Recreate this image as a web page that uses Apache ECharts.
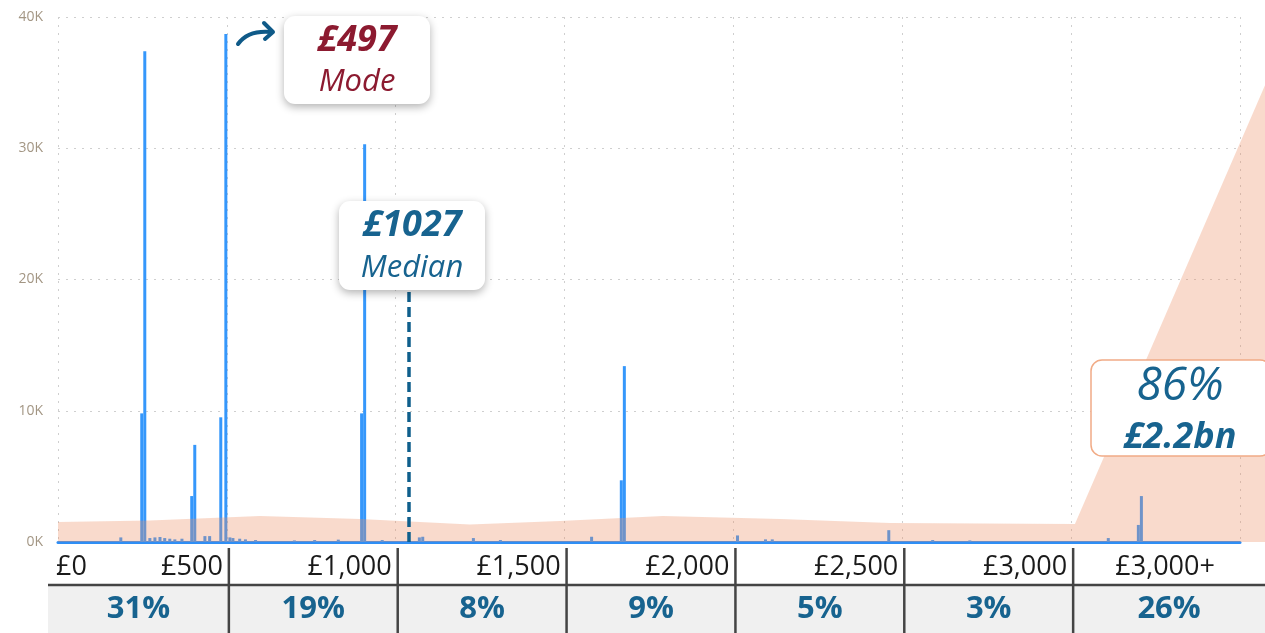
<!DOCTYPE html>
<html>
<head>
<meta charset="utf-8">
<script src="https://cdn.jsdelivr.net/npm/echarts@6/dist/echarts.min.js"></script>
<style>
  html, body { margin: 0; padding: 0; background: #fff; }
  #main { width: 1265px; height: 633px; }
</style>
</head>
<body>
<div id="main"></div>
<script>
// spikes: [amount £, count]
var spikes = [
  [186, 350], [248, 9800], [257, 37400], [272, 300], [287, 350], [302, 380], [316, 300],
  [331, 250], [346, 200], [367, 250], [396, 3500], [405, 7400], [435, 450], [449, 450],
  [482, 9500], [497, 38700], [509, 350], [518, 300], [538, 250], [555, 200], [585, 150],
  [700, 120], [760, 150], [830, 180], [899, 9800], [908, 30300], [960, 150], [1070, 350],
  [1080, 400], [1230, 300], [1310, 150], [1580, 400], [1668, 4700], [1677, 13400],
  [2012, 500], [2095, 200], [2115, 200], [2460, 900], [2590, 150], [2700, 120],
  [3110, 300], [3199, 1300], [3208, 3500]
];
// total money profile (area)
var moneyX = [0, 272, 597, 893, 1218, 1484, 1789, 2135, 2460, 3007, 3569];
var moneyY = [1520, 1640, 1980, 1750, 1330, 1600, 1980, 1750, 1450, 1370, 34800];

var medianValue = 1040;
var medianTop = 19200;

var tickLabels = ['£0', '£500', '£1,000', '£1,500', '£2,000', '£2,500', '£3,000', '£3,000+'];
var bandShares = ['31%', '19%', '8%', '9%', '5%', '3%', '26%'];

var moneyData = moneyX.map(function (x, i) { return [x, moneyY[i]]; });

var chart = echarts.init(document.getElementById('main'));

var option = {
  animation: false,
  grid: [
    { left: 58, right: 25, top: 17, bottom: 91 },
    { left: 58, right: 0, top: 17, bottom: 91 }
  ],
  xAxis: [
    {
      type: 'value', gridIndex: 0, min: 0, max: 3500, interval: 500,
      axisLine: { show: true, onZero: true, lineStyle: { color: '#2f8ef5', width: 3 } },
      axisTick: { show: false },
      axisLabel: { show: false },
      splitLine: { show: true, lineStyle: { color: '#cfcfcf', width: 1, type: [2, 6] } }
    },
    {
      type: 'value', gridIndex: 1, min: 0, max: 3569, show: false
    }
  ],
  yAxis: [
    {
      type: 'value', gridIndex: 0, min: 0, max: 40000, interval: 10000,
      axisLine: { show: false },
      axisTick: { show: false },
      axisLabel: {
        margin: 15, color: '#a39684', fontSize: 14, fontFamily: 'Open Sans',
        formatter: function (v) { return (v / 1000) + 'K'; }
      },
      splitLine: { show: true, lineStyle: { color: '#cfcfcf', width: 1, type: [2, 6] } }
    },
    {
      type: 'value', gridIndex: 1, min: 0, max: 40000, show: false
    }
  ],
  series: [
    {
      name: 'count',
      type: 'bar',
      xAxisIndex: 0, yAxisIndex: 0,
      data: spikes,
      barWidth: 3,
      itemStyle: { color: '#3597fb' },
      z: 2,
      markLine: {
        silent: true,
        symbol: 'none',
        label: { show: false },
        lineStyle: { color: '#0f5f8c', width: 3.5, type: [10, 5] },
        data: [[{ coord: [medianValue, 0] }, { coord: [medianValue, medianTop] }]]
      }
    },
    {
      name: 'money',
      type: 'line',
      xAxisIndex: 1, yAxisIndex: 1,
      data: moneyData,
      smooth: false,
      symbol: 'none',
      lineStyle: { width: 0 },
      areaStyle: { color: 'rgba(236,140,95,0.45)' },
      z: 3
    }
  ]
};
chart.setOption(option);

// annotations and the band table under the axis
var g = [];
var font = 'Open Sans';
var boxShadow = { shadowBlur: 8, shadowColor: 'rgba(0,0,0,0.3)', shadowOffsetY: 3 };

function box(x, y, w, h, extra) {
  var st = Object.assign({ fill: '#fff' }, boxShadow, extra || {});
  g.push({ type: 'rect', shape: { x: x, y: y, width: w, height: h, r: 11 }, style: st, z: 50 });
}
function txt(x, y, s, size, color, weight, italic, align) {
  g.push({
    type: 'text', x: x, y: y, z: 60,
    style: {
      text: s, fill: color, font: (italic ? 'italic ' : '') + (weight || 'normal') + ' ' + size + 'px "' + font + '"',
      align: align || 'center', verticalAlign: 'middle'
    }
  });
}

// mode
box(284, 16, 146, 88);
txt(357, 41, '£497', 36, '#8c1a30', 'bold', true);
txt(357, 82, 'Mode', 31, '#8c1a30', 'normal', true);
g.push({
  type: 'bezierCurve', z: 60,
  shape: { x1: 238, y1: 44, cpx1: 248, cpy1: 30, x2: 271, y2: 32 },
  style: { stroke: '#0f5a88', lineWidth: 4, fill: null, lineCap: 'round' }
});
g.push({
  type: 'polyline', z: 60,
  shape: { points: [[264, 23], [273, 32], [265, 39]] },
  style: { stroke: '#0f5a88', lineWidth: 4, fill: null, lineCap: 'round', lineJoin: 'round' }
});

// median
box(339, 201, 146, 89);
txt(412, 226, '£1027', 36, '#17638f', 'bold', true);
txt(412, 268, 'Median', 31, '#17638f', 'normal', true);

// share of money
box(1091, 360, 180, 96, { shadowBlur: 0, shadowOffsetY: 0, stroke: '#f1ab86', lineWidth: 1.5 });
txt(1180, 387, '86%', 46, '#17638f', 'normal', true);
txt(1180, 438, '£2.2bn', 36, '#17638f', 'bold', true);

// table
var lineColor = '#444';
var sep = [];
for (var i = 1; i <= 6; i++) {
  sep.push(chart.convertToPixel({ xAxisIndex: 0 }, i * 500) + 2);
}
var colEdges = [48].concat(sep).concat([1265]);

g.push({ type: 'rect', shape: { x: 48, y: 586, width: 1217, height: 47 }, style: { fill: '#f0f0f0' }, z: 10 });
g.push({ type: 'line', shape: { x1: 48, y1: 585, x2: 1265, y2: 585 }, style: { stroke: lineColor, lineWidth: 2.5 }, z: 20 });
sep.forEach(function (x) {
  g.push({ type: 'line', shape: { x1: x, y1: 548, x2: x, y2: 633 }, style: { stroke: lineColor, lineWidth: 2.5 }, z: 20 });
});

var x0 = chart.convertToPixel({ xAxisIndex: 0 }, 0);
txt(x0 - 2, 567, tickLabels[0], 27, '#1a1a1a', 'normal', false, 'left');
for (var j = 1; j <= 6; j++) {
  txt(sep[j - 1] - 6, 567, tickLabels[j], 27, '#1a1a1a', 'normal', false, 'right');
}
txt((sep[5] + 1265) / 2 - 4, 567, tickLabels[7], 27, '#1a1a1a', 'normal', false, 'center');

bandShares.forEach(function (s, k) {
  txt((colEdges[k] + colEdges[k + 1]) / 2, 609, s, 31, '#17638f', 'bold', false, 'center');
});

chart.setOption({ graphic: g });
</script>
</body>
</html>
